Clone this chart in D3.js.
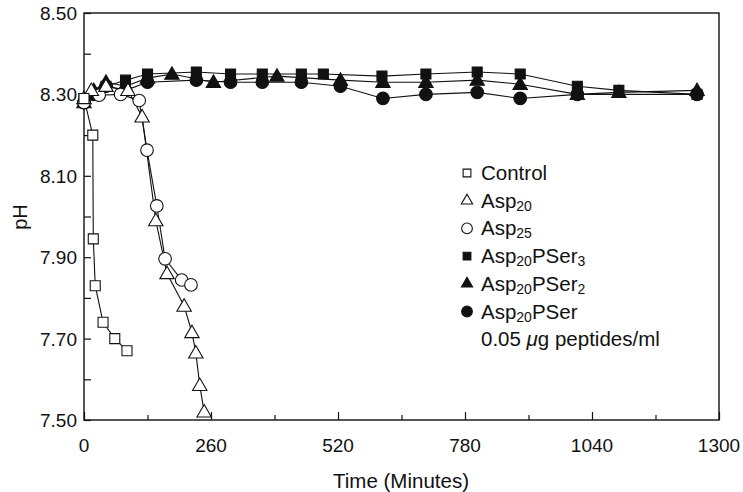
<!DOCTYPE html>
<html><head><meta charset="utf-8">
<script src="https://cdn.jsdelivr.net/npm/d3@7"></script>
<style>body{margin:0;background:#fff}svg{display:block}text{font-family:"Liberation Sans",Arial,sans-serif;fill:#111}</style>
</head><body><svg id="c" width="743" height="492"></svg>
<script>
// ---- data ----
const xTicks = [0, 260, 520, 780, 1040, 1300];
const yTicks = [7.50, 7.70, 7.90, 8.10, 8.30, 8.50];
const controlT = [0, 18, 19, 23, 39, 63, 88];
const controlPH = [8.29, 8.20, 7.945, 7.83, 7.74, 7.70, 7.67];
const asp20T = [0, 15, 45, 90, 119, 147, 170, 205, 221, 229, 237, 246];
const asp20PH = [8.29, 8.31, 8.32, 8.31, 8.245, 7.99, 7.86, 7.78, 7.715, 7.665, 7.585, 7.52];
const asp25T = [0, 31, 75, 113, 129, 149, 166, 200, 219];
const asp25PH = [8.28, 8.298, 8.30, 8.285, 8.163, 8.026, 7.896, 7.844, 7.832];
const pser3T = [0, 20, 45, 85, 130, 230, 300, 365, 445, 490, 610, 700, 805, 893, 1010, 1095, 1255];
const pser3PH = [8.29, 8.30, 8.32, 8.335, 8.35, 8.355, 8.35, 8.35, 8.35, 8.35, 8.345, 8.35, 8.355, 8.35, 8.32, 8.31, 8.30];
const pser2T = [0, 20, 45, 85, 130, 180, 265, 395, 525, 612, 700, 805, 893, 1010, 1095, 1255];
const pser2PH = [8.28, 8.31, 8.33, 8.32, 8.34, 8.35, 8.33, 8.345, 8.335, 8.33, 8.33, 8.335, 8.325, 8.30, 8.305, 8.31];
const pserT = [0, 20, 45, 85, 130, 230, 300, 365, 445, 525, 612, 700, 805, 893, 1010, 1255];
const pserPH = [8.28, 8.30, 8.32, 8.31, 8.33, 8.335, 8.33, 8.33, 8.33, 8.32, 8.29, 8.30, 8.305, 8.29, 8.30, 8.30];

const series = [
  {name:"Control", sub:null, tail:null, t:controlT, v:controlPH, shape:"square", fill:false},
  {name:"Asp", sub:"20", tail:null, t:asp20T, v:asp20PH, shape:"triangle", fill:false},
  {name:"Asp", sub:"25", tail:null, t:asp25T, v:asp25PH, shape:"circle", fill:false},
  {name:"Asp", sub:"20", tail:"PSer", sub2:"3", t:pser3T, v:pser3PH, shape:"square", fill:true},
  {name:"Asp", sub:"20", tail:"PSer", sub2:"2", t:pser2T, v:pser2PH, shape:"triangle", fill:true},
  {name:"Asp", sub:"20", tail:"PSer", sub2:null, t:pserT, v:pserPH, shape:"circle", fill:true}
];

const svg = d3.select("#c");
const L = 84, R = 719, T = 13, B = 420;
const x = d3.scaleLinear().domain([0, 1300]).range([L, R]);
const y = d3.scaleLinear().domain([7.5, 8.5]).range([B, T]);

svg.append("rect").attr("x", L).attr("y", T).attr("width", R-L).attr("height", B-T)
  .attr("fill","none").attr("stroke","#111").attr("stroke-width",1.4);

const xAxis = d3.axisBottom(x).tickValues(d3.range(0, 1301, 130)).tickSize(-7).tickFormat("");
const gx = svg.append("g").attr("transform",`translate(0,${B})`).call(xAxis);
gx.select(".domain").remove();
gx.selectAll(".tick line").attr("stroke","#111").attr("stroke-width",1.2).attr("y2", (d)=> xTicks.includes(d) ? -8 : -5);
svg.append("g").selectAll("text").data(xTicks).join("text")
  .attr("x", d=>x(d)).attr("y", 452).attr("text-anchor","middle").attr("font-size",19).text(d=>d);

const yAxis = d3.axisLeft(y).tickValues(d3.range(7.5, 8.501, 0.1)).tickSize(-7).tickFormat("");
const gy = svg.append("g").attr("transform",`translate(${L},0)`).call(yAxis);
gy.select(".domain").remove();
gy.selectAll(".tick line").attr("stroke","#111").attr("stroke-width",1.2).attr("x2", 7);
svg.append("g").selectAll("text").data(yTicks).join("text")
  .attr("x", 77).attr("y", d=>y(d)+7).attr("text-anchor","end").attr("font-size",19).text(d=>d.toFixed(2));

svg.append("text").attr("transform","translate(27,217) rotate(-90)").attr("text-anchor","middle")
  .attr("font-size",20).text("pH");
svg.append("text").attr("x", 401).attr("y", 488).attr("text-anchor","middle").attr("font-size",20.5).text("Time (Minutes)");

const symMap = {square:d3.symbolSquare, triangle:d3.symbolTriangle, circle:d3.symbolCircle};
const sizes = {square:100, triangle:90, circle:125};
const line = d3.line().x(d=>x(d[0])).y(d=>y(d[1]));

series.slice().reverse().forEach(s => {
  const pts = s.t.map((t,i)=>[t, s.v[i]]);
  svg.append("path").datum(pts).attr("d", line).attr("fill","none").attr("stroke","#111").attr("stroke-width",1.1);
});
series.slice().reverse().forEach(s => {
  const pts = s.t.map((t,i)=>[t, s.v[i]]);
  svg.append("g").selectAll("path").data(pts).join("path")
    .attr("transform", d=>`translate(${x(d[0])},${y(d[1]) + (s.shape==="triangle"?1:0)})`)
    .attr("d", d3.symbol().type(symMap[s.shape]).size(sizes[s.shape]))
    .attr("fill", s.fill ? "#111" : "#fff").attr("stroke","#111").attr("stroke-width", 1.1);
});

const lg = svg.append("g");
const ly0 = 173, ldy = 27.7;
series.forEach((s,i) => {
  const yy = ly0 + i*ldy;
  lg.append("path").attr("transform",`translate(467,${yy})`)
    .attr("d", d3.symbol().type(symMap[s.shape]).size(s.shape==="triangle"?55:s.shape==="circle"?90:60))
    .attr("fill", s.fill ? "#111" : "#fff").attr("stroke","#111").attr("stroke-width",1.1);
  const t = lg.append("text").attr("x", 481).attr("y", yy+7).attr("font-size",20.5);
  t.append("tspan").text(s.name);
  if (s.sub) t.append("tspan").attr("font-size",14).attr("dy",3).text(s.sub);
  if (s.tail) t.append("tspan").attr("dy",-3).text(s.tail);
  if (s.sub2) t.append("tspan").attr("font-size",14).attr("dy",3).text(s.sub2);
});
const note = lg.append("text").attr("x",481).attr("y", ly0 + 6*ldy + 7).attr("font-size",20.5);
note.append("tspan").text("0.05 ");
note.append("tspan").attr("font-style","italic").text("μ");
note.append("tspan").text("g peptides/ml");
</script></body></html>
